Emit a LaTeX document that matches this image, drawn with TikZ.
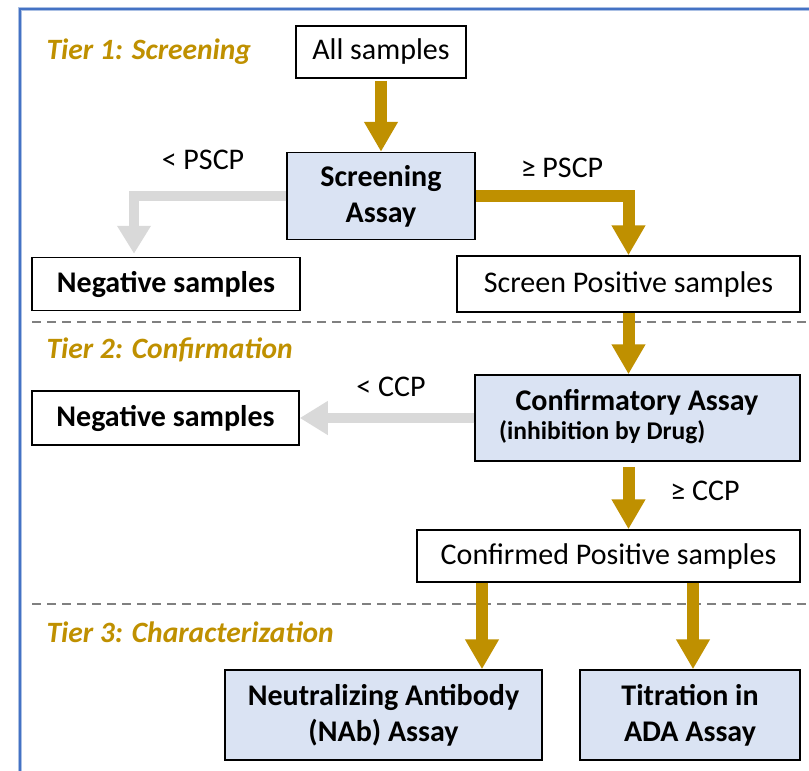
\documentclass[tikz,border=0pt]{standalone}
\usepackage{fontspec}
\setmainfont{Carlito}
\usetikzlibrary{arrows.meta}
\definecolor{gold}{RGB}{191,144,0}
\definecolor{lgrey}{RGB}{217,217,217}
\definecolor{boxblue}{RGB}{218,227,243}
\definecolor{frameblue}{RGB}{68,114,196}
\begin{document}
\begin{tikzpicture}[x=1pt,y=-1pt,
  box/.style={draw=black, line width=1.5pt, fill=white, inner sep=0pt, align=center,
    font=\fontsize{30}{36}\selectfont},
  assay/.style={box, fill=boxblue, font=\fontsize{30}{36}\selectfont\bfseries},
  garrow/.style={draw=gold, line width=12pt, -{Triangle[width=32pt,length=30pt]}, line join=miter},
  larrow/.style={draw=lgrey, line width=10pt, -{Triangle[width=32pt,length=28pt]}, line join=miter},
  tier/.style={text=gold, font=\fontsize{29.5}{32}\selectfont\bfseries\itshape, anchor=west},
  lbl/.style={font=\fontsize{30}{32}\selectfont},
  sep/.style={draw=gray, line width=1.5pt, dash pattern=on 9pt off 6pt}]
\useasboundingbox (0,0) rectangle (809,771);
\begin{scope}
  \clip (0,0) rectangle (809,771);
  \draw[frameblue!45, line width=4.5pt] (20,9) rectangle (840,800);
  \draw[frameblue, line width=1.8pt] (20,9) rectangle (840,800);
\end{scope}
% separators
\coordinate (s1a) at (32,322); \coordinate (s1b) at (809,322);
\coordinate (s2a) at (32,604); \coordinate (s2b) at (809,604);
\draw[sep] (s1a) -- (s1b);
\draw[sep] (s2a) -- (s2b);
% tier labels
\node[tier] (t1) at (43,52) {Tier 1: Screening};
\node[tier] (t2) at (43,350) {Tier 2: Confirmation};
\node[tier] (t3) at (43,632) {Tier 3: Characterization};
% boxes
\node[box, minimum width=170pt, minimum height=52pt] (all) at (381,52) {All samples};
\node[assay, minimum width=188pt, minimum height=87pt] (scr) at (381,196) {Screening\\Assay};
\node[box, minimum width=268pt, minimum height=53pt, font=\fontsize{30}{36}\selectfont\bfseries] (neg1) at (166,284) {Negative samples};
\node[box, minimum width=343pt, minimum height=56pt] (sp) at (628.5,284) {Screen Positive samples};
\node[assay, minimum width=325pt, minimum height=86pt] (conf) at (637.5,418) {};
\node[font=\fontsize{30}{32}\selectfont\bfseries, inner sep=0pt] (conft) at (637,402) {Confirmatory Assay};
\node[font=\fontsize{25.5}{28}\selectfont\bfseries, inner sep=0pt, anchor=west] (confs) at (499,432) {(inhibition by Drug)};
\node[box, minimum width=267pt, minimum height=54pt, font=\fontsize{30}{36}\selectfont\bfseries] (neg2) at (165.5,418) {Negative samples};
\node[box, minimum width=383pt, minimum height=52pt] (cp) at (608.5,556) {Confirmed Positive samples};
\node[assay, minimum width=317pt, minimum height=90pt] (nab) at (383.5,715) {Neutralizing Antibody\\(NAb) Assay};
\node[assay, minimum width=220pt, minimum height=90pt] (tit) at (690,715) {Titration in\\ADA Assay};
% labels
\node[lbl] (l1) at (203,160) {< PSCP};
\node[lbl] (l2) at (562,168) {≥ PSCP};
\node[lbl] (l3) at (391,387) {< CCP};
\node[lbl] (l4) at (705,491) {≥ CCP};
% arrows
\draw[garrow, shorten <=2pt] (all.south) -- (scr.north);
\draw[larrow, shorten >=3pt] (scr.west) -| ([xshift=-32pt]neg1.north);
\draw[garrow] (scr.east) -| (sp.north);
\draw[garrow] (sp.south) -- (sp.south |- conf.north);
\draw[larrow] (conf.west) -- (neg2.east);
\draw[garrow, shorten <=5pt] (sp.south |- conf.south) -- (sp.south |- cp.north);
\draw[garrow] ([xshift=-126.5pt]cp.south) -- ([xshift=-126.5pt]cp.south |- nab.north);
\draw[garrow] ([xshift=84.5pt]cp.south) -- ([xshift=84.5pt]cp.south |- tit.north);
\end{tikzpicture}
\end{document}
